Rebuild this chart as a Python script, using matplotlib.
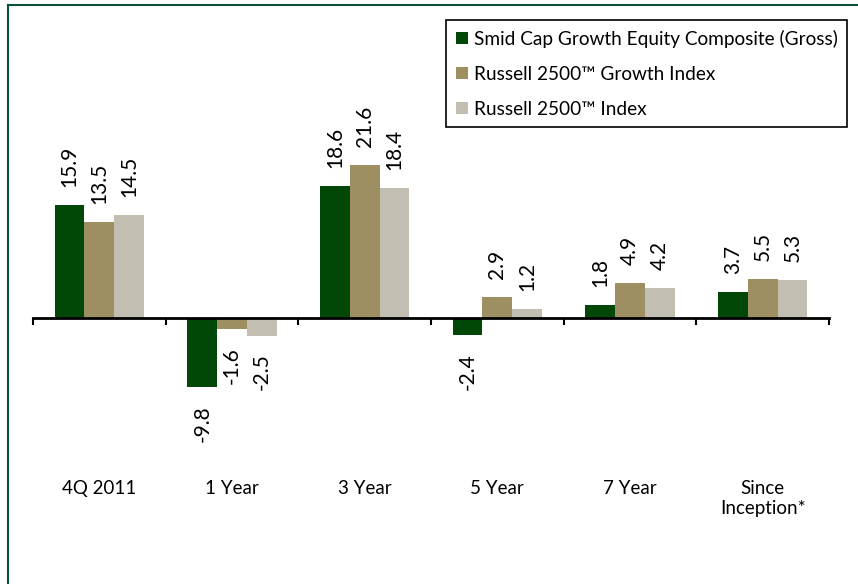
import matplotlib
matplotlib.use('Agg')
import matplotlib.pyplot as plt
import numpy as np
from matplotlib.lines import Line2D

categories = ['4Q 2011', '1 Year', '3 Year', '5 Year', '7 Year', 'Since\nInception*']
series_names = ['Smid Cap Growth Equity Composite (Gross)',
                'Russell 2500\u2122 Growth Index',
                'Russell 2500\u2122 Index']
composite = [15.9, -9.8, 18.6, -2.4, 1.8, 3.7]
growth_index = [13.5, -1.6, 21.6, 2.9, 4.9, 5.5]
index_2500 = [14.5, -2.5, 18.4, 1.2, 4.2, 5.3]
colors = ['#004708', '#9e8f62', '#c2beb2']

plt.rcParams['font.family'] = ['Lato', 'DejaVu Sans']

W, H = 858, 584
fig = plt.figure(figsize=(W / 100, H / 100), dpi=100)
ax = fig.add_axes([33 / W, 1 - 476 / H, (829 - 33) / W, (476 - 30) / H])

x = np.arange(len(categories))
bw = 0.224
series = [composite, growth_index, index_2500]
for i, (vals, c, name) in enumerate(zip(series, colors, series_names)):
    pos = x + (i - 1) * bw
    bars = ax.bar(pos, vals, bw, color=c, label=name, edgecolor='none', zorder=2)
    for xp, v in zip(pos, vals):
        ax.annotate(f'{v:.1f}', (xp, v), xytext=(0, 13 if v >= 0 else -13),
                    textcoords='offset points', rotation=90, ha='center',
                    va='bottom' if v >= 0 else 'top', fontsize=15)

ax.set_xlim(-0.5, len(categories) - 0.5)
ax.set_ylim(-22.35, 40.7)
for s in ['top', 'right', 'left']:
    ax.spines[s].set_visible(False)
ax.spines['bottom'].set_position(('data', 0))
ax.spines['bottom'].set_linewidth(2)
ax.spines['bottom'].set_zorder(3)
ax.set_yticks([])
ax.set_xticks(np.arange(len(categories) + 1) - 0.5)
ax.set_xticklabels([])
ax.tick_params(axis='x', direction='out', length=5, width=1.5)

for xi, lab in zip(x, categories):
    ax.annotate(lab, (xi, 0), xycoords=('data', 'axes fraction'), xytext=(0, -3),
                textcoords='offset points', ha='center', va='top', fontsize=13.5,
                linespacing=1.2)

leg = fig.legend(loc='upper right', bbox_to_anchor=(847 / W, 1 - 20 / H),
                 bbox_transform=fig.transFigure, fontsize=13.7, frameon=True,
                 fancybox=False, framealpha=1, edgecolor='black',
                 handlelength=0.65, handleheight=0.65, handletextpad=0.3,
                 labelspacing=0.95, borderpad=0.5, borderaxespad=0)
leg.get_frame().set_linewidth(1.2)

border_col = '#0b4f3c'
fig.add_artist(Line2D([8 / W, 8 / W], [0, 1 - 5 / H], color=border_col, lw=1.5,
                      transform=fig.transFigure))
fig.add_artist(Line2D([8 / W, 1], [1 - 5 / H, 1 - 5 / H], color=border_col, lw=1.5,
                      transform=fig.transFigure))

fig.savefig('out.png', dpi=100)
